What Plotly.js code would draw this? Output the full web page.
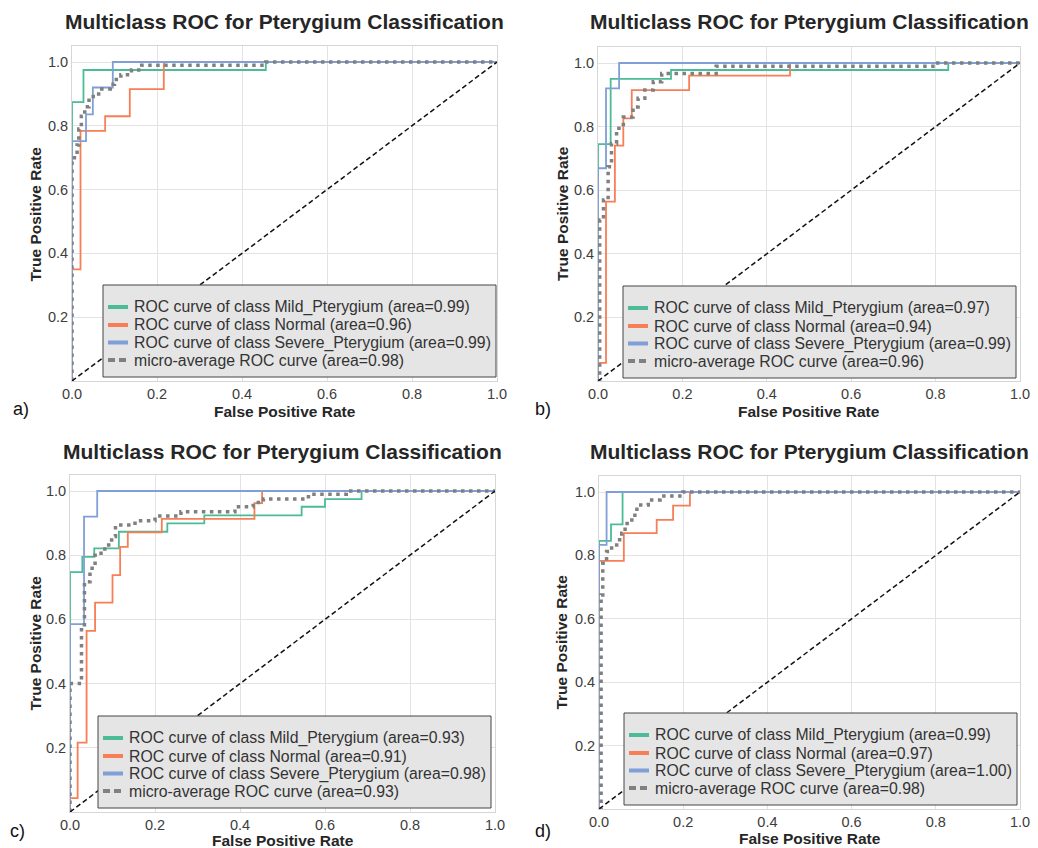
<!DOCTYPE html>
<html>
<head>
<meta charset="utf-8">
<script src="https://cdn.plot.ly/plotly-3.0.1.min.js"></script>
<style>
  html, body { margin: 0; padding: 0; background: #ffffff; }
  #chart { width: 1038px; height: 848px; }
</style>
</head>
<body>
<div id="chart"></div>
<script>
// ---------------- DATA ----------------
const classNames = ['Mild_Pterygium', 'Normal', 'Severe_Pterygium'];
const microName = 'micro-average ROC curve';
const panelLetters = ['a)', 'b)', 'c)', 'd)'];
const chartTitle = 'Multiclass ROC for Pterygium Classification';
const xTickVals = [0, 0.2, 0.4, 0.6, 0.8, 1.0];
const xTickText = ['0.0', '0.2', '0.4', '0.6', '0.8', '1.0'];
const yTickVals = [0.2, 0.4, 0.6, 0.8, 1.0];
const yTickText = ['0.2', '0.4', '0.6', '0.8', '1.0'];
const diagX = [0, 1];
const diagY = [0, 1];

// panel a
const aAreas = ['0.99', '0.96', '0.99', '0.98'];
const aMildFpr = [0, 0, 0.027, 0.456, 1];
const aMildTpr = [0, 0.874, 0.975, 1, 1];
const aNormalFpr = [0, 0, 0.02, 0.078, 0.136, 0.216, 1];
const aNormalTpr = [0, 0.35, 0.784, 0.83, 0.915, 1, 1];
const aSevereFpr = [0, 0, 0.033, 0.049, 0.096, 1];
const aSevereTpr = [0, 0.752, 0.836, 0.92, 1, 1];
const aMicroFpr = [0, 0, 0.012, 0.016, 0.022, 0.03, 0.04, 0.05, 0.07, 0.09, 0.1, 0.115, 0.14, 0.164, 0.456, 1];
const aMicroTpr = [0, 0.70, 0.74, 0.79, 0.83, 0.86, 0.88, 0.90, 0.915, 0.93, 0.945, 0.96, 0.975, 0.99, 1, 1];

// panel b
const bAreas = ['0.97', '0.94', '0.99', '0.96'];
const bMildFpr = [0, 0, 0.03, 0.173, 0.83, 1];
const bMildTpr = [0, 0.745, 0.95, 0.978, 1, 1];
const bNormalFpr = [0, 0, 0.019, 0.04, 0.06, 0.08, 0.216, 0.455, 1];
const bNormalTpr = [0, 0.057, 0.564, 0.74, 0.826, 0.915, 0.96, 1, 1];
const bSevereFpr = [0, 0, 0.019, 0.05, 1];
const bSevereTpr = [0, 0.669, 0.92, 1, 1];
const bMicroFpr = [0, 0.004, 0.013, 0.024, 0.032, 0.044, 0.06, 0.083, 0.095, 0.111, 0.131, 0.151, 0.28, 0.80, 1];
const bMicroTpr = [0, 0.506, 0.569, 0.674, 0.747, 0.795, 0.83, 0.862, 0.889, 0.915, 0.941, 0.967, 0.99, 1, 1];

// panel c
const cAreas = ['0.93', '0.91', '0.98', '0.93'];
const cMildFpr = [0, 0, 0.029, 0.057, 0.115, 0.229, 0.316, 0.545, 0.60, 0.686, 1];
const cMildTpr = [0, 0.747, 0.795, 0.821, 0.873, 0.899, 0.924, 0.951, 0.975, 1, 1];
const cNormalFpr = [0, 0, 0.018, 0.039, 0.059, 0.10, 0.118, 0.136, 0.216, 0.434, 0.452, 1];
const cNormalTpr = [0, 0.043, 0.216, 0.564, 0.652, 0.738, 0.826, 0.871, 0.913, 0.962, 1, 1];
const cSevereFpr = [0, 0, 0.033, 0.064, 1];
const cSevereTpr = [0, 0.585, 0.92, 1, 1];
const cMicroFpr = [0, 0, 0.027, 0.034, 0.047, 0.059, 0.082, 0.098, 0.107, 0.153, 0.2, 0.261, 0.388, 0.431, 0.455, 0.561, 0.65, 1];
const cMicroTpr = [0, 0.40, 0.577, 0.717, 0.759, 0.806, 0.832, 0.858, 0.894, 0.907, 0.922, 0.935, 0.951, 0.964, 0.975, 0.99, 1, 1];

// panel d
const dAreas = ['0.99', '0.97', '1.00', '0.98'];
const dMildFpr = [0, 0, 0.0285, 0.056, 1];
const dMildTpr = [0, 0.846, 0.898, 1, 1];
const dNormalFpr = [0, 0, 0.059, 0.137, 0.176, 0.216, 1];
const dNormalTpr = [0, 0.783, 0.87, 0.912, 0.957, 1, 1];
const dSevereFpr = [0, 0, 0.018, 1];
const dSevereTpr = [0, 0.833, 1, 1];
const dMicroFpr = [0, 0.005, 0.009, 0.018, 0.03, 0.042, 0.054, 0.062, 0.078, 0.09, 0.117, 0.145, 0.199, 1];
const dMicroTpr = [0, 0.675, 0.775, 0.812, 0.833, 0.849, 0.87, 0.901, 0.927, 0.959, 0.975, 0.987, 1, 1];

// ---------------- STYLE / LAYOUT ----------------
const W = 1038, H = 848;
const FONT = '"Liberation Sans", Arial, Helvetica, sans-serif';
const classColors = ['#4cbb97', '#f77e55', '#7f9fd6'];
const microColor = '#808080';

const panels = [
  { areas: aAreas, curves: [[aMildFpr, aMildTpr], [aNormalFpr, aNormalTpr], [aSevereFpr, aSevereTpr]], micro: [aMicroFpr, aMicroTpr],
    px: [72, 497], py0: 381, py1: 62, leg: [103, 285], letter: [21, 409], xlabY: 411, ylabX: 36, titleY: 21 },
  { areas: bAreas, curves: [[bMildFpr, bMildTpr], [bNormalFpr, bNormalTpr], [bSevereFpr, bSevereTpr]], micro: [bMicroFpr, bMicroTpr],
    px: [598, 1020], py0: 381, py1: 63, leg: [623, 286], letter: [543, 409], xlabY: 411, ylabX: 562, titleY: 21 },
  { areas: cAreas, curves: [[cMildFpr, cMildTpr], [cNormalFpr, cNormalTpr], [cSevereFpr, cSevereTpr]], micro: [cMicroFpr, cMicroTpr],
    px: [70, 495], py0: 812, py1: 491, leg: [98, 716], letter: [17, 831], xlabY: 840, ylabX: 35, titleY: 451 },
  { areas: dAreas, curves: [[dMildFpr, dMildTpr], [dNormalFpr, dNormalTpr], [dSevereFpr, dSevereTpr]], micro: [dMicroFpr, dMicroTpr],
    px: [599, 1020], py0: 809, py1: 492, leg: [624, 713], letter: [543, 831], xlabY: 838, ylabX: 562, titleY: 451 }
];

const LEG_W = 393, LEG_H = 92;
const LEG_ROWS = [22, 40, 57.5, 75];

const traces = [];
const layout = {
  width: W, height: H,
  margin: { l: 0, r: 0, t: 0, b: 0 },
  paper_bgcolor: '#ffffff',
  plot_bgcolor: '#ffffff',
  font: { family: FONT, color: '#333333', size: 14 },
  showlegend: false,
  annotations: [],
  shapes: [],
  hovermode: false
};

const fx = v => v / W;
const fy = v => 1 - v / H;

panels.forEach((p, i) => {
  const n = i === 0 ? '' : String(i + 1);
  const xa = 'x' + n, ya = 'y' + n;
  const unit = p.py0 - p.py1;
  const topPx = p.py0 - 1.05 * unit;

  const axisCommon = {
    showgrid: true, gridcolor: '#e3e3e3', gridwidth: 1,
    zeroline: false, showline: true, mirror: true, linecolor: '#d6d6d6', linewidth: 1,
    ticks: '', tickfont: { family: FONT, size: 14.5, color: '#3d3d3d' }, fixedrange: true
  };
  layout['xaxis' + n] = Object.assign({
    domain: [fx(p.px[0]), fx(p.px[1])], anchor: ya, range: [0, 1],
    tickvals: xTickVals, ticktext: xTickText
  }, axisCommon);
  layout['yaxis' + n] = Object.assign({
    domain: [fy(p.py0), fy(topPx)], anchor: xa, range: [0, 1.05],
    tickvals: yTickVals, ticktext: yTickText
  }, axisCommon);

  const labels = [];
  p.curves.forEach((c, k) => {
    const name = 'ROC curve of class ' + classNames[k] + ' (area=' + p.areas[k] + ')';
    labels.push(name);
    traces.push({
      type: 'scatter', mode: 'lines', x: c[0], y: c[1], xaxis: xa, yaxis: ya,
      line: { shape: 'hv', color: classColors[k], width: 1.8 }, name: name
    });
  });
  const microLabel = microName + ' (area=' + p.areas[3] + ')';
  labels.push(microLabel);
  traces.push({
    type: 'scatter', mode: 'lines', x: p.micro[0], y: p.micro[1], xaxis: xa, yaxis: ya,
    line: { shape: 'hv', color: microColor, width: 3.5, dash: '3.5px,4.5px' }, name: microLabel
  });
  traces.push({
    type: 'scatter', mode: 'lines', x: diagX, y: diagY, xaxis: xa, yaxis: ya,
    line: { color: '#111111', width: 1.5, dash: '5px,3px' }, name: 'chance'
  });

  // legend box (matplotlib-style, compact rows)
  const L = p.leg[0], T = p.leg[1];
  layout.shapes.push({
    type: 'rect', xref: 'paper', yref: 'paper',
    x0: fx(L), x1: fx(L + LEG_W), y0: fy(T + LEG_H), y1: fy(T),
    fillcolor: '#e5e5e5', line: { color: '#454545', width: 1 }, layer: 'above'
  });
  labels.forEach((lab, k) => {
    const yy = T + LEG_ROWS[k];
    const isMicro = k === 3;
    layout.shapes.push({
      type: 'line', xref: 'paper', yref: 'paper',
      x0: fx(L + 5), x1: fx(L + 25), y0: fy(yy), y1: fy(yy),
      line: { color: isMicro ? microColor : classColors[k], width: 4, dash: isMicro ? '7px,4px' : 'solid' },
      layer: 'above'
    });
    layout.annotations.push({
      xref: 'paper', yref: 'paper', x: fx(L + 29), y: fy(yy), xanchor: 'left', yanchor: 'middle',
      text: lab, showarrow: false, font: { family: FONT, size: 15.8, color: '#333333' }
    });
  });

  const cx = (p.px[0] + p.px[1]) / 2;
  layout.annotations.push(
    { xref: 'paper', yref: 'paper', x: fx(cx), y: fy(p.titleY), xanchor: 'center', yanchor: 'middle',
      text: '<b>' + chartTitle + '</b>', showarrow: false, font: { family: FONT, size: 21, color: '#262626' } },
    { xref: 'paper', yref: 'paper', x: fx(cx), y: fy(p.xlabY), xanchor: 'center', yanchor: 'middle',
      text: '<b>False Positive Rate</b>', showarrow: false, font: { family: FONT, size: 15.5, color: '#262626' } },
    { xref: 'paper', yref: 'paper', x: fx(p.ylabX), y: fy((p.py0 + topPx) / 2), xanchor: 'center', yanchor: 'middle',
      text: '<b>True Positive Rate</b>', textangle: -90, showarrow: false, font: { family: FONT, size: 15.5, color: '#262626' } },
    { xref: 'paper', yref: 'paper', x: fx(p.letter[0]), y: fy(p.letter[1]), xanchor: 'center', yanchor: 'middle',
      text: panelLetters[i], showarrow: false, font: { family: FONT, size: 18, color: '#111111' } }
  );
});

Plotly.newPlot('chart', traces, layout, { displayModeBar: false, staticPlot: true });
</script>
</body>
</html>
